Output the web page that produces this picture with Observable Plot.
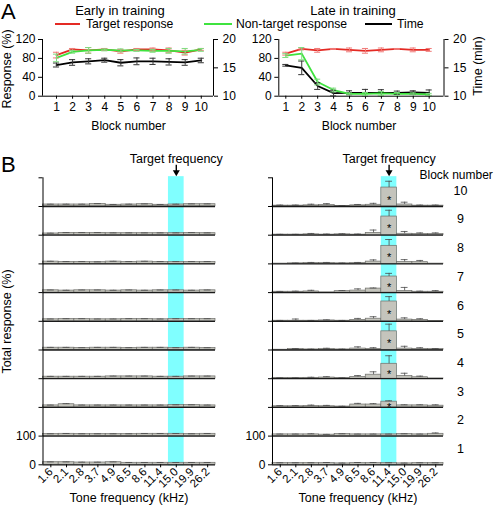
<!DOCTYPE html>
<html><head><meta charset="utf-8">
<script src="https://cdn.jsdelivr.net/npm/d3@7"></script>
<script src="https://cdn.jsdelivr.net/npm/@observablehq/plot@0.6"></script>
<style>
body{margin:0;background:#fff;}
#fig{position:relative;width:494px;height:508px;overflow:hidden;background:#fff;font-family:"Liberation Sans",Arial,sans-serif;}
#fig svg{position:absolute;overflow:visible;background:transparent;}
</style></head><body><div id="fig"></div>
<script>
// ---------- Panel A data ----------
const blocks = [1,2,3,4,5,6,7,8,9,10];
const timeTicks = [10,15,20];
const responseTicks = [0,40,80,120];
const earlyTarget      = [87, 99, 97, 99, 95, 99, 99, 97, 92, 99];
const earlyTargetErr   = [6, 2, 6, 2, 4, 2, 3, 5, 5, 2];
const earlyNonTarget   = [81, 94, 97, 98, 97, 97, 96, 96, 95, 98];
const earlyNonTargetErr= [8, 3, 6, 2, 3, 2, 3, 5, 6, 3];
const earlyTime        = [15.5, 15.95, 16.15, 16.35, 15.9, 16.15, 16.15, 16.05, 15.95, 16.3];
const earlyTimeErr     = [0.35, 0.5, 0.45, 0.35, 0.55, 0.6, 0.55, 0.55, 0.5, 0.4];
const lateTarget       = [90, 100, 97, 100, 98, 96, 98, 100, 98, 98];
const lateTargetErr    = [3, 2, 4, 1, 4, 5, 4, 1, 4, 3];
const lateNonTarget    = [86, 90, 30, 13, 5, 5, 6, 5, 5, 4];
const lateNonTargetErr = [4, 13, 6, 4, 2, 3, 4, 3, 2, 2];
const lateTime         = [15.45, 15.0, 11.8, 10.55, 10.6, 10.6, 10.6, 10.6, 10.65, 10.6];
const lateTimeErr      = [0.15, 1.2, 0.6, 0.5, 0.35, 0.6, 0.55, 0.3, 0.3, 0.5];

// ---------- Panel B data ----------
const freqs = ["1.6","2.1","2.8","3.7","4.9","6.5","8.6","11.4","15.0","19.9","26.2"];
const earlyTargetFreq = "15.0";
const lateTargetFreq = "11.4";
const bTicks = [0, 100];
// rows: block 1 ... block 10
const earlyBars = [
  [9,9,8,8,9,7,7,7,7,7,7],
  [7,8,7,7,7,7,8,8,8,7,8],
  [7,11,7,7,7,7,7,7,8,8,7],
  [7,7,7,7,8,8,8,7,7,8,8],
  [8,8,7,8,8,7,8,8,7,8,7],
  [7,8,8,7,7,8,8,7,8,8,8],
  [8,7,8,8,7,8,7,8,8,7,8],
  [8,7,7,6,8,7,8,7,7,7,7],
  [6,8,8,8,7,7,7,7,7,8,7],
  [7,7,7,9,6,7,8,6,7,8,8]
];
const earlyBarsErr = [
  [1,1,1,1,1,1,1,1,1,1,1],
  [1,1,1,1,1,1,1,1,1,1,1],
  [1,2,1,1,1,1,1,1,1,1,1],
  [1,1,1,1,1,1,1,1,1,1,1],
  [1,1,1,1,1,1,1,1,1,1,1],
  [1,1,1,1,1,1,1,1,1,1,1],
  [1,1,1,1,1,1,1,1,1,1,1],
  [1,1,1,1,1,1,1,1,1,1,1],
  [1,1,1,1,1,1,1,1,1,1,1],
  [1,1,1,1,1,1,1,1,1,1,1]
];
const lateBars = [
  [6,6,6,6,5,6,6,6,5,6,6],
  [6,6,6,5,7,6,6,6,7,6,8],
  [4,4,5,4,3,10,10,20,7,7,6],
  [2,2,3,4,2,6,14,52,9,5,1],
  [1,3,2,3,2,5,4,65,5,4,3],
  [2,2,2,3,2,5,9,69,6,5,1],
  [3,3,4,1,5,7,14,56,6,3,3],
  [1,2,3,3,2,3,8,63,7,6,1],
  [2,2,3,2,3,2,8,65,5,4,4],
  [3,3,4,5,2,4,6,66,7,3,3]
];
const lateBarsErr = [
  [1,1,1,2,1,2,2,1,1,1,1],
  [1,1,2,1,1,1,1,1,1,1,3],
  [2,2,3,3,1,4,3,3,2,2,3],
  [1,1,2,3,1,5,10,28,10,4,0],
  [0,2,1,3,1,6,4,25,8,4,2],
  [1,6,1,2,1,5,7,17,6,4,0],
  [1,2,4,0,2,6,2,11,12,2,4],
  [0,1,2,2,1,2,6,22,8,6,0],
  [1,1,3,2,2,2,10,22,8,4,4],
  [2,2,4,5,1,3,5,22,8,2,2]
];
const lateStarBlocks = [3,4,5,6,7,8,9,10];

const RED = "#e42a24", GREEN = "#3fe33f", BLACK = "#000";
const RED_E = "#f07a78", GREEN_E = "#7fdc7f", BLACK_E = "#333";
const FONT = "Liberation Sans, Arial, sans-serif";
const fig = document.getElementById("fig");

function place(svg, left, top) {
  svg.style.position = "absolute";
  svg.style.left = left + "px";
  svg.style.top = top + "px";
  fig.appendChild(svg);
}

function panelA(o) {
  const toY = t => (t - timeTicks[0]) * (120 / (timeTicks[2] - timeTicks[0]));
  const data = blocks.map((b, i) => ({
    b, tg: o.target[i], te: o.tErr[i], nt: o.non[i], ne: o.nErr[i],
    tm: toY(o.time[i]), tme: toY(timeTicks[0] + o.tmErr[i])
  }));
  const cw = 0.19;
  const err = (k, e, c) => [
    Plot.ruleX(data, {x: "b", y1: d => d[k] - d[e], y2: d => d[k] + d[e], stroke: c, strokeWidth: 1}),
    Plot.ruleY(data, {y: d => d[k] + d[e], x1: d => d.b - cw, x2: d => d.b + cw, stroke: c, strokeWidth: 1}),
    Plot.ruleY(data, {y: d => d[k] - d[e], x1: d => d.b - cw, x2: d => d.b + cw, stroke: c, strokeWidth: 1})
  ];
  const svg = Plot.plot({
    width: o.width, height: 100,
    marginTop: 9, marginBottom: 34.3, marginLeft: o.mLeft, marginRight: o.mRight,
    x: {domain: o.xDomain},
    y: {domain: [0, 120]},
    style: {background: "transparent", overflow: "visible", fontFamily: FONT, fontSize: "12px", color: "#000"},
    marks: [
      Plot.ruleX([o.xDomain[0]], {y1: 0, y2: 120, stroke: "#000"}),
      Plot.ruleX([o.xDomain[1]], {y1: 0, y2: 120, stroke: "#000"}),
      Plot.ruleY([0], {stroke: "#000"}),
      Plot.axisY({anchor: "left", ticks: responseTicks, tickSize: 4, tickPadding: 3, label: null}),
      Plot.axisY({anchor: "right", ticks: timeTicks.map(toY), tickFormat: y => String(timeTicks[0] + y / 12), tickSize: 4, tickPadding: 5, label: null}),
      Plot.axisX({ticks: blocks, tickFormat: d => String(d), tickSize: 3, tickPadding: 3, label: null}),
      Plot.line(data, {x: "b", y: "tm", stroke: BLACK, strokeWidth: 1.8}),
      Plot.line(data, {x: "b", y: "tg", stroke: RED, strokeWidth: 1.8}),
      Plot.line(data, {x: "b", y: "nt", stroke: GREEN, strokeWidth: 1.8}),
      ...err("tm", "tme", BLACK_E),
      ...err("tg", "te", RED_E),
      ...err("nt", "ne", GREEN_E)
    ]
  });
  place(svg, o.left, 30);
}

function panelB(o) {
  const ti = freqs.indexOf(o.target);
  const rows = [];
  o.means.forEach((row, r) => row.forEach((v, i) => rows.push({
    i, r: r + 1, v, base: r * 100, top: r * 100 + v, hi: r * 100 + v + o.errs[r][i], e: o.errs[r][i]
  })));
  const errRows = rows.filter(d => d.e > 0);
  const starRows = rows.filter(d => d.i === ti && o.stars.includes(d.r));
  const yTicks = d3.range(0, 1001, 100);
  const marks = [
    Plot.rect([ti], {x1: d => d - 0.5, x2: d => d + 0.5, y1: -4, y2: 1004, fill: "#80ffff"}),
    Plot.rect(rows, {x1: d => d.i - 0.5, x2: d => d.i + 0.5, y1: "base", y2: "top", fill: "#c4c4bc", stroke: "#6e6e6a", strokeWidth: 0.7}),
    Plot.ruleX(errRows, {x: "i", y1: "top", y2: "hi", stroke: "#4a4a4a", strokeWidth: 0.8}),
    Plot.ruleY(errRows, {y: "hi", x1: d => d.i - 0.22, x2: d => d.i + 0.22, stroke: "#4a4a4a", strokeWidth: 0.8}),
    Plot.ruleY(d3.range(10).map(r => r * 100), {x1: -0.5, x2: 10.5, stroke: "#1a1a1a", strokeWidth: 1.3}),
    Plot.ruleX([-0.5], {y1: 0, y2: 1000, stroke: "#000"}),
    Plot.axisY({ticks: yTicks, tickFormat: d => bTicks.includes(d) ? String(d) : "", tickSize: 4, tickPadding: 3, label: null}),
    Plot.axisX({ticks: d3.range(freqs.length), tickFormat: i => freqs[i], tickRotate: -45, tickSize: 3, tickPadding: 2, label: null, fontSize: 11.5}),
    Plot.text(starRows, {x: "i", y: d => d.base + d.v / 2, text: () => "*", fontSize: 11, dy: 3}),
    Plot.text([ti], {x: d => d, frameAnchor: "top", lineAnchor: "middle", dy: -18.5, text: () => "Target frequency", fontSize: 12.5}),
    Plot.ruleX([ti], {x: d => d, y1: 1000 + 12.5 / 0.287, y2: 1000 + 6 / 0.287, stroke: "#000", strokeWidth: 1.4}),
    Plot.dot([ti], {x: d => d, y: 1000 + 5.5 / 0.287, symbol: "triangle", rotate: 180, r: 2.6, fill: "#000", stroke: "none"})
  ];
  if (o.blockLabels) {
    marks.push(
      Plot.text(blocks, {x: 10.5, y: b => (b - 1) * 100 + 55, text: b => String(b), dx: 17, fontSize: 12.5}),
      Plot.text(["Block number"], {x: 10.5, frameAnchor: "top", lineAnchor: "middle", dy: -2.5, dx: -24, textAnchor: "start", text: d => d, fontSize: 12})
    );
  }
  const svg = Plot.plot({
    width: o.width, height: 368,
    marginTop: 37.3, marginBottom: 43.7, marginLeft: o.mLeft, marginRight: o.mRight,
    x: {domain: [-0.5, 10.5]},
    y: {domain: [0, 1000]},
    style: {background: "transparent", overflow: "visible", fontFamily: FONT, fontSize: "12px", color: "#000"},
    marks
  });
  place(svg, o.left, 140);
}

panelA({target: earlyTarget, tErr: earlyTargetErr, non: earlyNonTarget, nErr: earlyNonTargetErr,
        time: earlyTime, tmErr: earlyTimeErr, left: 0, width: 240, mLeft: 42, mRight: 27, xDomain: [0.13, 10.76]});
panelA({target: lateTarget, tErr: lateTargetErr, non: lateNonTarget, nErr: lateNonTargetErr,
        time: lateTime, tmErr: lateTimeErr, left: 240, width: 254, mLeft: 38.3, mRight: 50.5, xDomain: [0.56, 10.93]});

panelB({means: earlyBars, errs: earlyBarsErr, target: earlyTargetFreq, stars: [], left: 0, width: 240, mLeft: 42.5, mRight: 25, blockLabels: false});
panelB({means: lateBars, errs: lateBarsErr, target: lateTargetFreq, stars: lateStarBlocks, left: 240, width: 254, mLeft: 32, mRight: 51, blockLabels: true});

// ---------- overlay text (titles, legend, axis titles) ----------
const ov = d3.select(fig).append("svg").attr("width", 494).attr("height", 508)
  .style("left", "0px").style("top", "0px")
  .attr("font-family", FONT).attr("fill", "#000");
function txt(s, x, y, size, anchor = "start", rot = 0) {
  ov.append("text").attr("transform", `translate(${x},${y}) rotate(${rot})`)
    .attr("font-size", size).attr("text-anchor", anchor).text(s);
}
txt("A", 1, 19, 22);
txt("B", 1, 172, 22);
txt("Early in training", 120, 14.5, 13, "middle");
txt("Late in training", 353, 14.5, 13, "middle");
const legend = [["Target response", RED, 55, 80, 86], ["Non-target response", GREEN, 204, 232, 236], ["Time", BLACK, 365, 392, 397]];
legend.forEach(([s, c, x1, x2, tx]) => {
  ov.append("line").attr("x1", x1).attr("x2", x2).attr("y1", 24).attr("y2", 24).attr("stroke", c).attr("stroke-width", 2);
  txt(s, tx, 28.3, 12.2);
});
txt("Response (%)", 11, 69, 12.5, "middle", -90);
txt("Time (min)", 482, 66, 12.5, "middle", -90);
txt("Block number", 128.5, 129.5, 12.2, "middle");
txt("Block number", 359, 129.5, 12.2, "middle");
txt("Total response (%)", 11, 321.5, 12.5, "middle", -90);
txt("Tone frequency (kHz)", 129, 502, 12.5, "middle");
txt("Tone frequency (kHz)", 358, 502, 12.5, "middle");
</script></body></html>
